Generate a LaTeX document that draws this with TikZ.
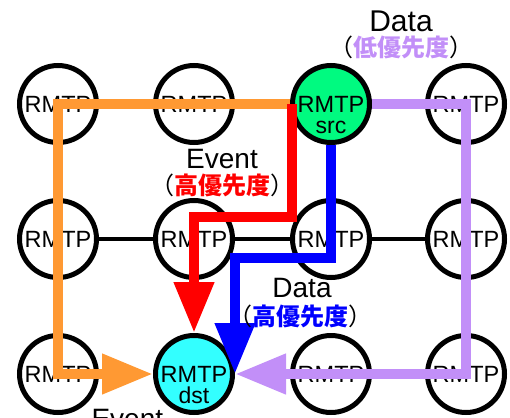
\documentclass[tikz,border=0pt]{standalone}
\usepackage{fontspec}
\setmainfont{Liberation Sans}
\newfontfamily\jpfont{Noto Sans CJK JP}
\usetikzlibrary{arrows.meta}
\definecolor{evorange}{RGB}{255,153,51}
\definecolor{lowpurple}{RGB}{194,143,248}
\definecolor{srcgreen}{RGB}{0,250,128}
\definecolor{dstcyan}{RGB}{51,255,255}

\begin{document}
\begin{tikzpicture}[x=1pt, y=-1pt,
    rmtp/.style={circle, draw=black, line width=5pt, fill=white, minimum size=77pt,
                 inner sep=0pt, font=\fontsize{23.5}{24}\selectfont},
    sub/.style={anchor=base, font=\fontsize{23}{24}\selectfont},
    lbl/.style={font=\fontsize{28}{30}\selectfont},
    jp/.style={font=\jpfont\fontsize{24}{26}\selectfont},
    route/.style={line width=10.5pt, -{Triangle[length=51pt,width=38pt]}}]
    \useasboundingbox (0,0) rectangle (510,417);

    % RMTP mesh: row 1 (top) .. row 3 (bottom), column 1 .. 4
    \node[rmtp] (n11) at (58,104) {RMTP}; \node[rmtp] (n12) at (194,104) {RMTP};
    \node[rmtp, fill=srcgreen] (n13) at (331,104) {RMTP}; \node[rmtp] (n14) at (466,104) {RMTP};
    \node[rmtp] (n21) at (58,239) {RMTP}; \node[rmtp] (n22) at (194,239) {RMTP};
    \node[rmtp] (n23) at (331,239) {RMTP}; \node[rmtp] (n24) at (466,239) {RMTP};
    \node[rmtp] (n31) at (58,374) {RMTP}; \node[rmtp, fill=dstcyan] (n32) at (194,374) {RMTP};
    \node[rmtp] (n33) at (331,374) {RMTP}; \node[rmtp] (n34) at (466,374) {RMTP};
    \node[sub] (src) at ([yshift=-29.5pt]n13.center) {src};
    \node[sub] (dst) at ([yshift=-29.5pt]n32.center) {dst};

    \draw[line width=4pt] (n21)--(n22)--(n23)--(n24); % middle row links

    % routes from src to dst
    \draw[route, evorange] (n13.west)--(n11.center)--(n31.center)--(n32.west); % Event, round the left
    \draw[route, red] ([xshift=2pt]n13.west)--++(0,113) -| (n32.north); % Event, short way
    \draw[route, blue] (n13.south)--++(0,113) -| (n32.east); % Data, high priority
    \draw[route, lowpurple] (n13.east)--(n14.center)--(n34.center)--(n32.east); % Data, low priority

    % labels
    \node[lbl, font=\fontsize{30}{32}\selectfont] (datalow) at (401,21) {Data};
    \node[jp] (datalowjp) at (401,47) {（\textcolor{lowpurple}{\bfseries 低優先度}）};
    \node[lbl] (evhigh) at (222,159) {Event};
    \node[jp] (evhighjp) at (222,185) {（\textcolor{red}{\bfseries 高優先度}）};
    \node[lbl] (datahigh) at (302,288) {Data};
    \node[jp] (datahighjp) at (300,316) {（\textcolor{blue}{\bfseries 高優先度}）};
    \node[lbl, anchor=base west] (evlow) at (88,428) {Event};
\end{tikzpicture}
\end{document}
